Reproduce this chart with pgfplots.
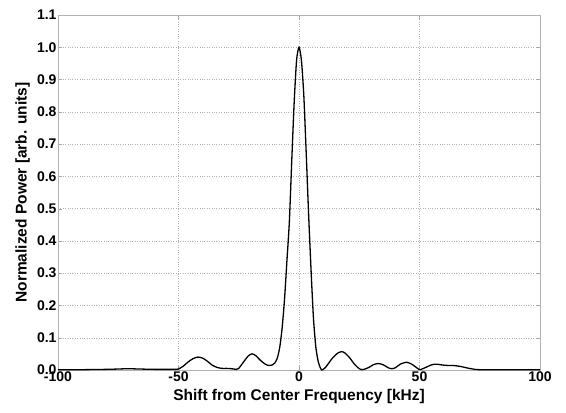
\documentclass[border=0pt]{standalone}
\usepackage{fontspec}
\setmainfont{Liberation Sans}
\usepackage{pgfplots}
\pgfplotsset{compat=1.18}
\usetikzlibrary{calc}

\begin{document}
\begin{tikzpicture}
\begin{axis}[
  name=ax,
  scale only axis,
  width=482pt, height=355pt,
  xmin=-100, xmax=100,
  ymin=0, ymax=1.1,
  xtick={-100,-50,0,50,100},
  ytick={0,0.1,...,1.1},
  yticklabel style={/pgf/number format/fixed, /pgf/number format/fixed zerofill, /pgf/number format/precision=1, xshift=2pt},
  /pgf/number format/assume math mode=true,
  tick label style={font=\fontsize{14}{16}\selectfont\bfseries},
  label style={font=\fontsize{15.5}{18}\selectfont\bfseries},
  xlabel={Shift from Center Frequency [kHz]},
  ylabel={Normalized Power [arb. units]},
  xlabel style={at={(axis description cs:0.5,-0.054)},anchor=north,inner sep=0pt},
  ylabel style={at={(axis description cs:-0.058,0.5)},anchor=south,inner sep=0pt},
  xticklabel style={yshift=2pt},
  grid=major,
  major grid style={dotted, gray!60},
  tick align=inside,
  major tick length=4pt,
  tick style={gray!70},
  axis line style={gray!60, line width=0.8pt},
]
\addplot[black, line width=1.3pt, smooth, tension=0.4] coordinates {
(-100,0.001) (-90,0.001) (-80,0.002) (-75,0.003) (-71,0.004) (-66,0.003)
(-60,0.002) (-55,0.002) (-51,0.002)
(-50,0.003) (-48,0.012) (-46,0.025) (-44,0.035) (-42,0.040) (-40,0.037)
(-38,0.027) (-36,0.015) (-34,0.008) (-32,0.005) (-30,0.005) (-28,0.004)
(-26,0.002) (-25,0.005) (-23,0.025) (-21,0.044) (-19.5,0.050) (-18,0.045)
(-16,0.030) (-14,0.018) (-12.5,0.014) (-11,0.016) (-10,0.022) (-9,0.037)
(-8,0.07) (-7,0.13) (-6,0.22) (-5,0.34) (-4,0.46) (-3,0.65) (-2,0.83)
(-1,0.96) (0,1.0) (1,0.96) (2,0.85) (3,0.67) (4,0.48) (5,0.31) (6,0.16)
(7,0.07) (8,0.025) (9,0.004) (9.5,0.0) (10,0.002) (11,0.008) (12,0.018)
(14,0.038) (16,0.052) (17.7,0.057) (19,0.053) (21,0.038) (23,0.018)
(25,0.004) (26,0.001) (27,0.002) (29,0.008) (31,0.017) (33,0.020)
(35,0.016) (37,0.007) (38.5,0.004) (40,0.007) (42,0.018) (44.7,0.024)
(47,0.017) (49,0.006) (50.2,0.001) (52,0.006) (55,0.016) (57,0.018)
(60,0.015) (62,0.014) (64,0.014) (67,0.011) (70,0.006) (73,0.002)
(75,0.001) (80,0.001) (90,0.001) (100,0.001)
};
\end{axis}
\pgfresetboundingbox
\path ($(ax.south west)+(-58pt,-42pt)$) rectangle ($(ax.north east)+(26pt,15pt)$);
\end{tikzpicture}
\end{document}
